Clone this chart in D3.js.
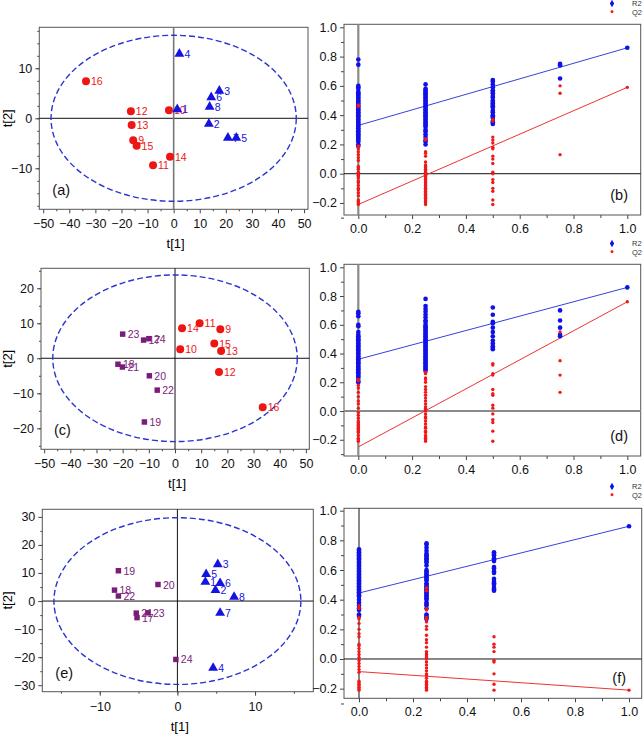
<!DOCTYPE html>
<html><head><meta charset="utf-8">
<script src="https://cdn.jsdelivr.net/npm/d3@7"></script>
<style>body{margin:0;background:#fff} svg{display:block} text{font-family:"Liberation Sans",Arial,sans-serif}</style>
</head><body><svg id="c" width="643" height="735"></svg>
<script>
// ---------- Score plots data ----------
const aIds   = ["9","10","11","12","13","14","15","16","1","2","3","4","5","6","7","8"];
const aT1    = [-15.5,-1.8,-7.9,-16.4,-16.1,-1.4,-14.2,-33.6, 1.4,13.5,17.5,2.2,24.0,14.4,20.8,13.8];
const aT2    = [-4.4,1.6,-9.4,1.4,-1.35,-7.7,-5.5,7.4, 1.8,-1.1,5.5,12.9,-3.9,4.2,-3.9,2.3];
const aGroup = ["C","C","C","C","C","C","C","C","T","T","T","T","T","T","T","T"];

const cIds   = ["9","10","11","12","13","14","15","16","17","18","19","20","21","22","23","24"];
const cT1    = [17.3,2.0,9.4,16.8,17.6,2.7,15.0,33.5,-12.0,-21.8,-11.7,-9.8,-20.1,-6.8,-20.0,-10.0];
const cT2    = [8.3,2.6,10.0,-3.9,2.1,8.6,4.2,-14.0,5.2,-1.7,-18.2,-5.0,-2.5,-9.1,6.9,5.6];
const cGroup = ["C","C","C","C","C","C","C","C","S","S","S","S","S","S","S","S"];

const eIds   = ["1","2","3","4","5","6","7","8","17","18","19","20","21","22","23","24"];
const eT1    = [3.6,4.9,5.2,4.6,3.7,5.5,5.5,7.3,-5.2,-8.1,-7.6,-2.5,-5.3,-7.6,-3.8,-0.2];
const eT2    = [6.8,3.9,13.1,-23.8,9.6,6.4,-4.2,1.5,-5.9,3.9,10.8,5.9,-4.3,1.8,-4.2,-20.8];
const eGroup = ["T","T","T","T","T","T","T","T","S","S","S","S","S","S","S","S"];

// ---------- Permutation data ----------
const permX = [0, 0.25, 0.5, 0.75, 1.0];
const bR2 = [
  [0.78,0.745,0.60,0.59,0.58,0.56,0.55,0.54,0.53,0.52,0.51,0.50,0.49,0.48,0.47,0.46,0.45,0.44,0.43,0.42,0.41,0.40,0.39,0.38,0.37,0.36,0.35,0.34,0.33,0.32,0.31,0.30,0.29,0.28,0.27,0.26,0.25,0.24,0.23,0.22,0.20,0.19],
  [0.61,0.58,0.57,0.56,0.55,0.54,0.53,0.52,0.51,0.50,0.49,0.48,0.47,0.46,0.45,0.44,0.43,0.42,0.41,0.40,0.39,0.38,0.37,0.36,0.35,0.34,0.33,0.32,0.30,0.29,0.27,0.25,0.23,0.22,0.20],
  [0.64,0.63,0.61,0.59,0.57,0.56,0.55,0.53,0.52,0.50,0.49,0.48,0.47,0.46,0.45,0.43,0.42,0.40,0.39,0.38,0.36,0.35,0.34],
  [0.75,0.74,0.65],
  [0.86]
];
const bQ2 = [
  [0.47,0.46,0.19,0.18,0.17,0.15,0.13,0.11,0.09,0.05,0.04,0.03,0.01,0.0,-0.01,-0.02,-0.03,-0.05,-0.06,-0.08,-0.10,-0.11,-0.13,-0.15,-0.18,-0.19,-0.20,-0.21],
  [0.24,0.23,0.15,0.14,0.12,0.08,0.06,0.05,0.04,0.03,0.02,0.01,0.0,-0.01,-0.02,-0.03,-0.04,-0.05,-0.06,-0.07,-0.08,-0.09,-0.10,-0.11,-0.12,-0.13,-0.14,-0.15,-0.16,-0.17,-0.18,-0.19,-0.20,-0.21],
  [0.37,0.36,0.25,0.23,0.21,0.18,0.17,0.12,0.10,0.07,0.01,0.0,-0.04,-0.06,-0.10,-0.12,-0.18,-0.21],
  [0.60,0.55,0.13],
  [0.59]
];
const bR2Line = [0.33, 0.86];
const bQ2Line = [-0.21, 0.59];

const dR2 = [
  [0.69,0.68,0.66,0.60,0.59,0.55,0.53,0.52,0.51,0.50,0.49,0.48,0.47,0.46,0.45,0.44,0.43,0.42,0.41,0.40,0.39,0.38,0.37,0.36,0.35,0.34,0.33,0.32,0.31,0.30,0.29,0.28,0.27,0.26,0.25,0.24,0.23,0.21,0.20],
  [0.78,0.73,0.71,0.69,0.67,0.65,0.63,0.62,0.60,0.59,0.58,0.57,0.56,0.55,0.54,0.53,0.52,0.51,0.50,0.49,0.48,0.47,0.46,0.45,0.44,0.43,0.42,0.41,0.40,0.39,0.38,0.37,0.36,0.35,0.34,0.33,0.32,0.31,0.30,0.29,0.28],
  [0.72,0.67,0.62,0.61,0.58,0.55,0.52,0.49,0.47,0.45,0.44,0.43],
  [0.70,0.63,0.58,0.53,0.52],
  [0.86]
];
const dQ2 = [
  [0.22,0.21,0.18,0.16,0.13,0.10,0.07,0.05,0.02,-0.01,-0.03,-0.05,-0.07,-0.08,-0.09,-0.10,-0.11,-0.12,-0.13,-0.14,-0.15,-0.17,-0.19,-0.20,-0.21],
  [0.27,0.26,0.23,0.22,0.20,0.17,0.15,0.13,0.11,0.09,0.07,0.05,0.03,0.02,0.01,0.0,-0.02,-0.04,-0.05,-0.07,-0.09,-0.11,-0.12,-0.14,-0.15,-0.17,-0.18,-0.19,-0.20,-0.21],
  [0.33,0.32,0.26,0.25,0.15,0.12,0.11,0.04,0.02,-0.02,-0.06,-0.08,-0.14,-0.21],
  [0.55,0.35,0.25,0.13],
  [0.76]
];
const dR2Line = [0.36, 0.86];
const dQ2Line = [-0.25, 0.76];

const fR2 = [
  [0.74,0.73,0.72,0.71,0.70,0.69,0.68,0.67,0.66,0.65,0.64,0.63,0.62,0.61,0.60,0.59,0.58,0.57,0.56,0.55,0.54,0.53,0.52,0.51,0.50,0.49,0.48,0.47,0.46,0.45,0.44,0.43,0.42,0.40,0.38,0.36,0.34,0.33,0.30,0.29],
  [0.78,0.77,0.75,0.73,0.71,0.70,0.69,0.68,0.67,0.66,0.65,0.63,0.60,0.59,0.58,0.57,0.56,0.55,0.54,0.53,0.51,0.50,0.49,0.48,0.47,0.46,0.45,0.44,0.43,0.42,0.41,0.40,0.38,0.37,0.36,0.34,0.30,0.29,0.28,0.27],
  [0.72,0.71,0.70,0.68,0.67,0.66,0.62,0.61,0.59,0.58,0.54,0.52,0.51,0.50,0.48,0.47,0.46],
  [],
  [0.895]
];
const fQ2 = [
  [0.36,0.34,0.28,0.27,0.24,0.20,0.17,0.15,0.10,0.09,0.07,0.05,0.03,0.01,-0.01,-0.03,-0.05,-0.07,-0.09,-0.15,-0.16,-0.17,-0.18,-0.19,-0.20,-0.21],
  [0.48,0.46,0.34,0.33,0.28,0.27,0.25,0.22,0.20,0.16,0.13,0.11,0.08,0.05,0.04,0.03,0.02,0.01,0.0,-0.02,-0.04,-0.06,-0.08,-0.10,-0.11,-0.13,-0.15,-0.16,-0.17,-0.18,-0.19,-0.20,-0.21],
  [0.15,0.10,0.08,0.05,-0.01,-0.02,-0.10,-0.17,-0.21],
  [],
  [-0.21]
];
const fR2Line = [0.445, 0.895];
const fQ2Line = [-0.085, -0.21];

const legendLabels = ["R2", "Q2"];

// ---------- drawing ----------
const svg = d3.select("#c");
const FONT = '"Liberation Sans", Arial, sans-serif';
const COL = {C:"#ee1515", T:"#1414e0", S:"#7a1d7a"};
const SYM = {C:d3.symbolCircle, T:d3.symbolTriangle, S:d3.symbolSquare};
const SIZE = {C:50, T:42, S:30};

function styleAxis(g, fs){
  g.attr("font-family", FONT).attr("font-size", fs);
  g.select(".domain").remove();
  g.selectAll(".tick line").attr("stroke", "#444");
  g.selectAll(".tick text").attr("fill", "#111");
}

function range(a, b, s){ const r=[]; for(let v=a; v<=b+1e-9; v+=s) r.push(+v.toFixed(4)); return r; }

function scoresPanel(o, ids, t1, t2, grp){
  const x = d3.scaleLinear().domain(o.xDom).range([o.L, o.R]);
  const y = d3.scaleLinear().domain(o.yDom).range([o.B, o.T]);
  const g = svg.append("g");
  g.append("g").attr("transform",`translate(0,${o.B})`)
    .call(d3.axisBottom(x).tickValues(o.xMinor).tickSize(2).tickFormat("")).call(a=>styleAxis(a,12.5));
  g.append("g").attr("transform",`translate(${o.L},0)`)
    .call(d3.axisLeft(y).tickValues(o.yMinor).tickSize(2).tickFormat("")).call(a=>styleAxis(a,12.5));
  g.append("g").attr("transform",`translate(0,${o.B})`)
    .call(d3.axisBottom(x).tickValues(o.xTicks).tickSize(4).tickPadding(6)).call(a=>styleAxis(a,12.5));
  g.append("g").attr("transform",`translate(${o.L},0)`)
    .call(d3.axisLeft(y).tickValues(o.yTicks).tickSize(4).tickPadding(3)).call(a=>styleAxis(a,12.5));
  g.append("rect").attr("x",o.L).attr("y",o.T).attr("width",o.R-o.L).attr("height",o.B-o.T)
    .attr("fill","none").attr("stroke","#555").attr("stroke-width",1);
  g.append("line").attr("x1",o.L).attr("x2",o.R).attr("y1",y(0)).attr("y2",y(0)).attr("stroke","#111").attr("stroke-width",1);
  g.append("line").attr("x1",x(0)).attr("x2",x(0)).attr("y1",o.T).attr("y2",o.B).attr("stroke",o.vCol).attr("stroke-width",o.vW);
  g.append("ellipse").attr("cx",x(0)).attr("cy",y(0))
    .attr("rx",x(o.ell[0])-x(0)).attr("ry",y(0)-y(o.ell[1]))
    .attr("fill","none").attr("stroke","#2a35d0").attr("stroke-width",1.4).attr("stroke-dasharray","6,3");
  ids.forEach((id,i)=>{
    const k = grp[i], px = x(t1[i]), py = y(t2[i]);
    g.append("path").attr("d", d3.symbol().type(SYM[k]).size(SIZE[k])())
      .attr("transform",`translate(${px},${py})`).attr("fill",COL[k]);
    g.append("text").attr("x",px+5).attr("y",py+4).attr("font-size",10.5).attr("fill",COL[k]).text(id);
  });
  svg.append("text").attr("x",(o.L+o.R)/2+2).attr("y",o.B+39).attr("text-anchor","middle")
    .attr("font-size",13).text("t[1]");
  svg.append("text").attr("transform",`translate(12,${(o.T+o.B)/2}) rotate(-90)`).attr("text-anchor","middle")
    .attr("font-size",13).text("t[2]");
  svg.append("text").attr("x",o.L+13).attr("y",o.B-14).attr("font-size",14.5).attr("fill","#111").text(o.tag);
}

function permPanel(o, R2, Q2, r2L, q2L){
  const x = d3.scaleLinear().domain(o.xDom).range([o.L, o.R]);
  const y = d3.scaleLinear().domain(o.yDom).range([o.B, o.T]);
  const g = svg.append("g");
  g.append("g").attr("transform",`translate(0,${o.B})`)
    .call(d3.axisBottom(x).tickValues(range(0.1,0.9,0.2)).tickSize(3).tickFormat("")).call(a=>styleAxis(a,12.5));
  g.append("g").attr("transform",`translate(${o.L},0)`)
    .call(d3.axisLeft(y).tickValues([-0.3,-0.1,0.1,0.3,0.5,0.7,0.9]).tickSize(3).tickFormat("")).call(a=>styleAxis(a,12.5));
  g.append("g").attr("transform",`translate(0,${o.B})`)
    .call(d3.axisBottom(x).tickValues(range(0,1,0.2)).tickSize(4).tickPadding(5).tickFormat(d3.format(".1f"))).call(a=>styleAxis(a,12.5));
  g.append("g").attr("transform",`translate(${o.L},0)`)
    .call(d3.axisLeft(y).tickValues(range(-0.2,1,0.2)).tickSize(4).tickPadding(3).tickFormat(d3.format(".1f"))).call(a=>styleAxis(a,12.5));
  g.append("rect").attr("x",o.L).attr("y",o.T).attr("width",o.R-o.L).attr("height",o.B-o.T)
    .attr("fill","none").attr("stroke","#555").attr("stroke-width",1);
  g.append("line").attr("x1",x(0)).attr("x2",x(0)).attr("y1",o.T).attr("y2",o.B).attr("stroke",o.vCol).attr("stroke-width",o.vW);
  g.append("line").attr("x1",o.L).attr("x2",o.R).attr("y1",y(0)).attr("y2",y(0)).attr("stroke",o.hCol).attr("stroke-width",o.hW);
  g.append("line").attr("x1",x(0)).attr("y1",y(r2L[0])).attr("x2",x(1)).attr("y2",y(r2L[1])).attr("stroke","#3344dd").attr("stroke-width",1);
  g.append("line").attr("x1",x(0)).attr("y1",y(q2L[0])).attr("x2",x(1)).attr("y2",y(q2L[1])).attr("stroke","#ee3333").attr("stroke-width",1);
  const dia = d3.symbol().type(d3.symbolCircle).size(17)();
  const star = d3.symbol().type(d3.symbolCircle).size(9)();
  permX.forEach((px,i)=>{
    R2[i].forEach(v=>g.append("path").attr("d",dia).attr("transform",`translate(${x(px)},${y(v)})`).attr("fill","#1010e8"));
  });
  permX.forEach((px,i)=>{
    Q2[i].forEach(v=>g.append("path").attr("d",star).attr("transform",`translate(${x(px)},${y(v)})`).attr("fill","#f01818"));
  });
  const ly = o.legY;
  g.append("path").attr("d",d3.symbol().type(d3.symbolDiamond).size(16)()).attr("transform",`translate(612,${ly})`).attr("fill","#1010e8");
  g.append("path").attr("d",d3.symbol().type(d3.symbolCircle).size(7)()).attr("transform",`translate(612,${ly+8.3})`).attr("fill","#f01818");
  g.append("text").attr("x",632).attr("y",ly+2.7).attr("font-size",7.5).attr("fill","#333").text(legendLabels[0]);
  g.append("text").attr("x",632).attr("y",ly+11).attr("font-size",7.5).attr("fill","#333").text(legendLabels[1]);
  g.append("text").attr("x",o.tagX).attr("y",o.B-15).attr("text-anchor","end").attr("font-size",14.5).attr("fill","#111").text(o.tag);
}

scoresPanel({L:39.3,R:308,T:27.3,B:209.3,xDom:[-51.5,51.5],yDom:[-18.2,18.2],
  xTicks:range(-50,50,10),xMinor:range(-45,45,10),yTicks:[-10,0,10],yMinor:range(-17.5,17.5,2.5),
  ell:[47,16.6],vCol:"#777",vW:1.6,tag:"(a)"}, aIds,aT1,aT2,aGroup);
scoresPanel({L:41,R:309.3,T:268.3,B:449.3,xDom:[-51.2,51.3],yDom:[-26,25.7],
  xTicks:range(-50,50,10),xMinor:range(-45,45,10),yTicks:range(-20,20,10),yMinor:range(-25,25,5),
  ell:[46.7,23.8],vCol:"#111",vW:1,tag:"(c)"}, cIds,cT1,cT2,cGroup);
scoresPanel({L:42.3,R:313.3,T:509.3,B:691.7,xDom:[-17.4,17.5],yDom:[-32.3,32.7],
  xTicks:[-10,0,10],xMinor:range(-15,15,5),yTicks:range(-30,30,10),yMinor:range(-25,25,5),
  ell:[15.9,29.7],vCol:"#111",vW:1,tag:"(e)"}, eIds,eT1,eT2,eGroup);

permPanel({L:344,R:640.7,T:24.3,B:215,xDom:[-0.0532,1.0498],yDom:[-0.282,1.0205],
  vCol:"#8a8a8a",vW:2.2,hCol:"#111",hW:1,legY:3.5,tag:"(b)",tagX:628}, bR2,bQ2,bR2Line,bQ2Line);
permPanel({L:344,R:640.7,T:264.3,B:456,xDom:[-0.0532,1.0498],yDom:[-0.313,1.0209],
  vCol:"#8a8a8a",vW:2.2,hCol:"#8a8a8a",hW:2,legY:243.5,tag:"(d)",tagX:628}, dR2,dQ2,dR2Line,dQ2Line);
permPanel({L:344,R:641.7,T:508.3,B:698.3,xDom:[-0.0556,1.047],yDom:[-0.265,1.016],
  vCol:"#111",vW:1,hCol:"#111",hW:1,legY:486.5,tag:"(f)",tagX:626}, fR2,fQ2,fR2Line,fQ2Line);
</script></body></html>
